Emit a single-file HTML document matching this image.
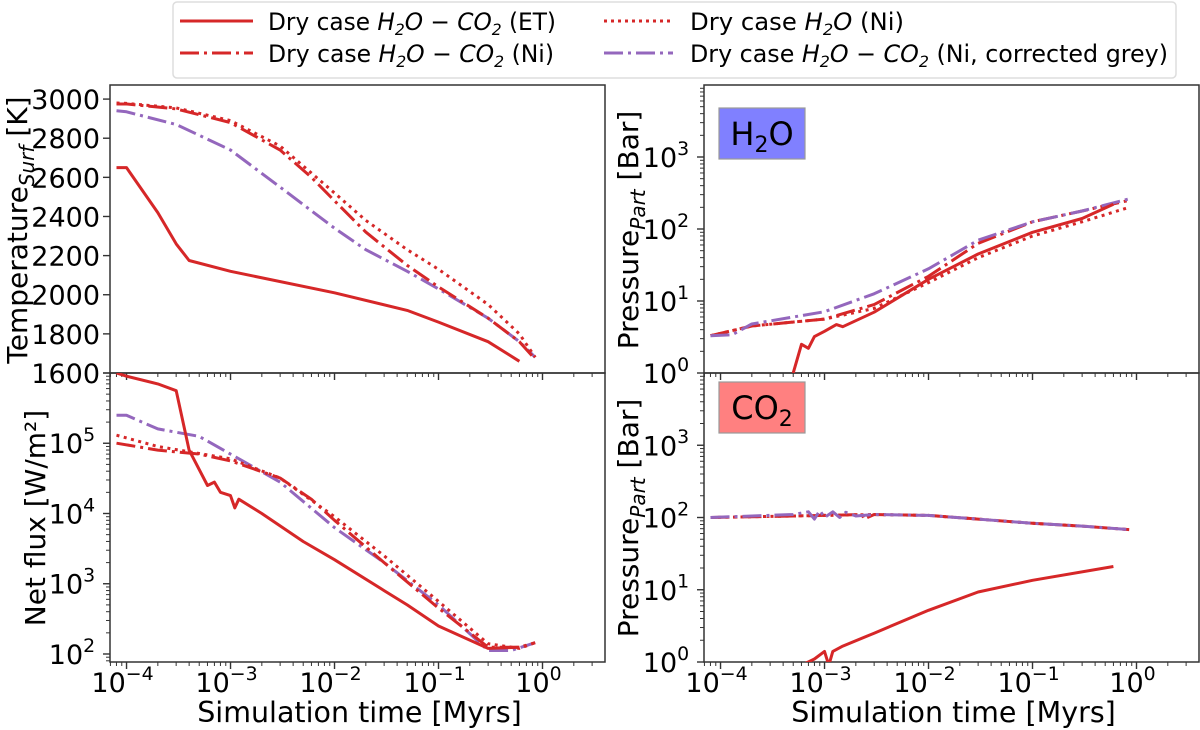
<!DOCTYPE html>
<html><head><meta charset="utf-8">
<style>
html,body{margin:0;padding:0;background:#fff;width:1200px;height:730px;overflow:hidden}
svg{display:block;font-family:"DejaVu Sans","Liberation Sans",sans-serif}
</style></head>
<body>
<svg id="fig" width="1200" height="730" viewBox="0 0 1200 730" xmlns="http://www.w3.org/2000/svg">
<g id="legend">
  <rect x="173" y="2" width="1003" height="76" rx="4" fill="#fff" stroke="#ddd" stroke-width="1.5"/>
  <g>
    <line x1="180" y1="21" x2="253" y2="21" stroke="#d62728" stroke-width="3"/>
    <text x="268" y="30" font-size="24" textLength="288" lengthAdjust="spacingAndGlyphs">Dry case <tspan font-style="italic">H</tspan><tspan font-size="16" dy="5" font-style="italic">2</tspan><tspan dy="-5" font-style="italic">O − CO</tspan><tspan font-size="16" dy="5" font-style="italic">2</tspan><tspan dy="-5"> (ET)</tspan></text>
  </g>
  <g>
    <line x1="180" y1="53" x2="253" y2="53" stroke="#d62728" stroke-width="3" stroke-dasharray="19,5,3,5"/>
    <text x="268" y="62" font-size="24" textLength="286" lengthAdjust="spacingAndGlyphs">Dry case <tspan font-style="italic">H</tspan><tspan font-size="16" dy="5" font-style="italic">2</tspan><tspan dy="-5" font-style="italic">O − CO</tspan><tspan font-size="16" dy="5" font-style="italic">2</tspan><tspan dy="-5"> (Ni)</tspan></text>
  </g>
  <g>
    <line x1="604" y1="21" x2="673" y2="21" stroke="#d62728" stroke-width="3" stroke-dasharray="3,4"/>
    <text x="690" y="30" font-size="24" textLength="214" lengthAdjust="spacingAndGlyphs">Dry case <tspan font-style="italic">H</tspan><tspan font-size="16" dy="5" font-style="italic">2</tspan><tspan dy="-5" font-style="italic">O</tspan> (Ni)</text>
  </g>
  <g>
    <line x1="604" y1="53" x2="673" y2="53" stroke="#9467bd" stroke-width="3" stroke-dasharray="19,5,3,5"/>
    <text x="690" y="62" font-size="24" textLength="478" lengthAdjust="spacingAndGlyphs">Dry case <tspan font-style="italic">H</tspan><tspan font-size="16" dy="5" font-style="italic">2</tspan><tspan dy="-5" font-style="italic">O − CO</tspan><tspan font-size="16" dy="5" font-style="italic">2</tspan><tspan dy="-5"> (Ni, corrected grey)</tspan></text>
  </g>
</g>
</svg>
<script>
// ---- data (time in Myrs) ----
// Surface temperature [K]
const tempET_t = [8e-5,1e-4,2e-4,3e-4,4e-4,1e-3,1e-2,5e-2,0.1,0.3,0.6];
const tempET_v = [2650,2650,2420,2260,2175,2120,2010,1920,1860,1760,1660];
const tempNi_t = [8e-5,1e-4,3e-4,1e-3,3e-3,6e-3,1e-2,2e-2,5e-2,0.1,0.3,0.6,0.85];
const tempNi_v = [2975,2975,2950,2880,2740,2600,2480,2320,2150,2040,1880,1760,1670];
const tempH2O_t = [8e-5,1e-4,3e-4,1e-3,3e-3,1e-2,2e-2,5e-2,0.1,0.3,0.6,0.85];
const tempH2O_v = [2980,2978,2955,2890,2760,2520,2380,2230,2130,1950,1800,1680];
const tempGrey_t = [8e-5,1e-4,3e-4,1e-3,3e-3,1e-2,2e-2,5e-2,0.1,0.3,0.6,0.85];
const tempGrey_v = [2940,2935,2870,2740,2550,2340,2230,2120,2030,1880,1760,1680];
// Net flux [W/m^2]
const fluxET_t = [8e-5,1e-4,2e-4,3e-4,4e-4,6e-4,7e-4,8e-4,1e-3,1.1e-3,1.2e-3,2e-3,5e-3,1e-2,3e-2,5e-2,0.1,0.3,0.6];
const fluxET_v = [1e6,9e5,7e5,5.6e5,8e4,2.5e4,2.8e4,2e4,1.8e4,1.2e4,1.6e4,1e4,4e3,2.2e3,800,500,250,120,125];
const fluxNi_t = [8e-5,2e-4,5e-4,1e-3,3e-3,6e-3,1e-2,3e-2,0.1,0.3,0.6,0.85];
const fluxNi_v = [1e5,8e4,7e4,5.6e4,3.2e4,1.6e4,8e3,2e3,450,125,125,145];
const fluxH2O_t = [8e-5,2e-4,1e-3,3e-3,1e-2,3e-2,0.1,0.3,0.6,0.85];
const fluxH2O_v = [1.3e5,9e4,6e4,3.2e4,9e3,2.5e3,560,140,120,145];
const fluxGrey_t = [8e-5,1e-4,2e-4,5e-4,1e-3,3e-3,1e-2,3e-2,0.1,0.3,0.5,0.85];
const fluxGrey_v = [2.5e5,2.5e5,1.6e5,1.25e5,7e4,2.8e4,6.3e3,2e3,500,112,112,145];
// H2O partial pressure [bar]
const h2oET_t = [5e-4,6e-4,7e-4,8e-4,1e-3,1.3e-3,1.5e-3,3e-3,1e-2,3e-2,0.1,0.3,0.6];
const h2oET_v = [1,2.5,2.2,3.2,3.8,4.7,4.4,7,20,45,90,140,220];
const h2oNi_t = [8e-5,2e-4,1e-3,3e-3,1e-2,3e-2,0.1,0.3,0.85];
const h2oNi_v = [3.3,4.5,5.6,8.9,22,63,126,178,250];
const h2oH2O_t = [8e-5,2e-4,1e-3,3e-3,1e-2,3e-2,0.1,0.3,0.85];
const h2oH2O_v = [3.3,4.5,5.6,7.9,18,40,80,126,200];
const h2oGrey_t = [8e-5,1.3e-4,2e-4,1e-3,3e-3,1e-2,3e-2,0.1,0.3,0.85];
const h2oGrey_v = [3.3,3.4,4.8,7.1,12.6,28,70,126,178,263];
// CO2 partial pressure [bar]
const co2ET_t = [6e-4,8e-4,1e-3,1.1e-3,1.2e-3,1.5e-3,3e-3,1e-2,3e-2,0.1,0.6];
const co2ET_v = [0.9,1.1,1.4,0.9,1.4,1.66,2.5,5.2,9.3,13.5,21];
const co2Ni_t = [8e-5,5e-4,1e-3,2.3e-3,2.4e-3,3e-3,1e-2,3e-2,0.1,0.3,0.85];
const co2Ni_v = [100,105,107,110,95,110,107,95,83,76,68];
const co2H2O_t = [8e-5,5e-4,1e-3,3e-3,1e-2,3e-2,0.1,0.3,0.85];
const co2H2O_v = [100,105,107,110,107,95,83,76,68];
const co2Grey_t = [8e-5,5e-4,7e-4,8e-4,9e-4,1e-3,1.2e-3,1.4e-3,1.6e-3,2e-3,3e-3,1e-2,3e-2,0.1,0.3,0.85];
const co2Grey_v = [100,110,120,95,125,100,120,100,118,105,110,107,95,83,76,68];
// tick labels
const tempTicks = [1600,1800,2000,2200,2400,2600,2800,3000];
const xTickExps = [-4,-3,-2,-1,0];
const fluxTickExps = [2,3,4,5];
const presTickExps = [0,1,2,3];

const NS = "http://www.w3.org/2000/svg";
const svg = document.getElementById('fig');
const RED = "#d62728", PUR = "#9467bd";
const DASHDOT = "19,5,3,5", DOT = "3,4.5";
const FS = 27;
function el(tag, attrs, parent){const e=document.createElementNS(NS,tag);for(const k in attrs)e.setAttribute(k,attrs[k]);(parent||svg).appendChild(e);return e;}

const XMIN=-4.159, XMAX=0.601;
function mkPanel(x0,x1,y0,y1,ylog,ymin,ymax){
  return {x0,x1,y0,y1,
    X:t=>x0+(Math.log10(t)-XMIN)/(XMAX-XMIN)*(x1-x0),
    Y:v=>{const u=ylog?Math.log10(v):v;return y1-(u-ymin)/(ymax-ymin)*(y1-y0);}};
}
const pT = mkPanel(110,605,85,373,false,1600,3072);
const pF = mkPanel(110,605,373,662,true,1.886,6.0);
const pH = mkPanel(704,1199,85,373,true,0,4.0);
const pC = mkPanel(704,1199,373,662,true,0,4.0);

function series(p,ts,vs,color,dash,name,clipId){
  let d="";
  for(let i=0;i<ts.length;i++){d+=(i?"L":"M")+p.X(ts[i]).toFixed(1)+","+p.Y(vs[i]).toFixed(1);}
  const a={d:d,fill:"none",stroke:color,"stroke-width":3,"stroke-linejoin":"round","clip-path":"url(#"+clipId+")"};
  if(dash)a["stroke-dasharray"]=dash;
  const e=el('path',a);
  
  
}
function sup(parent,x,y,base,exp,size,anchor){
  const t=el('text',{x:x,y:y,"font-size":size,"text-anchor":anchor},parent);
  const b=el('tspan',{},t);b.textContent=base;
  const s=el('tspan',{dy:-size*0.45,"font-size":size*0.7},t);s.textContent=exp;
  return t;
}
const defs=el('defs',{});
let clipN=0;
function frame(p,name){
  const id="clip"+(clipN++);
  const cp=el('clipPath',{id:id},defs);el('rect',{x:p.x0,y:p.y0,width:p.x1-p.x0,height:p.y1-p.y0},cp);
  const r=el('rect',{x:p.x0,y:p.y0,width:p.x1-p.x0,height:p.y1-p.y0,fill:"none",stroke:"#333","stroke-width":1.5});
  
  
  return id;
}
function xaxis(p,labels,name){
  const g=el('g',{});
  
  
  for(let d=-5;d<=1;d++)for(let m=1;m<10;m++){
    const t=m*Math.pow(10,d);const x=p.X(t);
    if(x<p.x0-0.1||x>p.x1+0.1)continue;
    el('line',{x1:x,y1:p.y1,x2:x,y2:p.y1+(m==1?7:4),stroke:"#333","stroke-width":m==1?1.4:1},g);
  }
  if(labels){
    xTickExps.forEach(e=>{sup(g,p.X(Math.pow(10,e))-4,692,"10",e<0?"−"+(-e):String(e),FS,"middle");});
    const xl=el('text',{x:(p.x0+p.x1)/2+2,y:722,"font-size":28.5,"text-anchor":"middle"},g);
    xl.textContent="Simulation time [Myrs]";
  }
}
function ylogaxis(p,exps,lo,hi,name){
  const g=el('g',{});
  
  
  for(let d=lo;d<=hi;d++)for(let m=1;m<10;m++){
    const v=m*Math.pow(10,d);const y=p.Y(v);
    if(y<p.y0-0.1||y>p.y1+0.1)continue;
    el('line',{x1:p.x0,y1:y,x2:p.x0-(m==1?7:4),y2:y,stroke:"#333","stroke-width":m==1?1.4:1},g);
  }
  exps.forEach(e=>{sup(g,p.x0-38,p.Y(Math.pow(10,e))+10,"10",String(e),FS,"middle");});
}

// Panels
const cT=frame(pT,"temperature-panel");
const cF=frame(pF,"flux-panel");
const cH=frame(pH,"h2o-pressure-panel");
const cC=frame(pC,"co2-pressure-panel");

// Temperature y axis
(function(){
  const g=el('g',{});
  
  
  tempTicks.forEach(v=>{const y=pT.Y(v);
    el('line',{x1:pT.x0,y1:y,x2:pT.x0-7,y2:y,stroke:"#333","stroke-width":1.4},g);
    const t=el('text',{x:pT.x0-10,y:y+10,"font-size":FS,"text-anchor":"end"},g);t.textContent=v;});
  const t=el('text',{transform:"translate(27,230) rotate(-90)","font-size":28,"text-anchor":"middle"},g);
  const a=el('tspan',{},t);a.textContent="Temperature";
  const b=el('tspan',{dy:7,"font-size":20,"font-style":"italic"},t);b.textContent="Surf";
  const c=el('tspan',{dy:-7},t);c.textContent=" [K]";
  
  
})();
ylogaxis(pF,fluxTickExps,1,6,"flux-y-axis");
(function(){const t=el('text',{transform:"translate(45,518) rotate(-90)","font-size":28,"text-anchor":"middle"});
  t.textContent="Net flux [W/m²]";
  
  })();
ylogaxis(pH,presTickExps,0,3,"h2o-y-axis");
ylogaxis(pC,presTickExps,0,3,"co2-y-axis");
[[pH,230,"h2o-y-axis-title"],[pC,518,"co2-y-axis-title"]].forEach(([p,cy,n])=>{
  const t=el('text',{transform:"translate(638,"+cy+") rotate(-90)","font-size":28,"text-anchor":"middle"});
  const a=el('tspan',{},t);a.textContent="Pressure";
  const b=el('tspan',{dy:7,"font-size":20,"font-style":"italic"},t);b.textContent="Part";
  const c=el('tspan',{dy:-7},t);c.textContent=" [Bar]";
  
  
});
xaxis(pT,false,"temperature-x-axis");
xaxis(pH,false,"h2o-x-axis");
xaxis(pF,true,"flux-x-axis");
xaxis(pC,true,"co2-x-axis");

// Series
series(pT,tempGrey_t,tempGrey_v,PUR,DASHDOT,"temp-grey-line",cT);
series(pT,tempH2O_t,tempH2O_v,RED,DOT,"temp-h2o-ni-line",cT);
series(pT,tempNi_t,tempNi_v,RED,DASHDOT,"temp-ni-line",cT);
series(pT,tempET_t,tempET_v,RED,null,"temp-et-line",cT);

series(pF,fluxGrey_t,fluxGrey_v,PUR,DASHDOT,"flux-grey-line",cF);
series(pF,fluxH2O_t,fluxH2O_v,RED,DOT,"flux-h2o-ni-line",cF);
series(pF,fluxNi_t,fluxNi_v,RED,DASHDOT,"flux-ni-line",cF);
series(pF,fluxET_t,fluxET_v,RED,null,"flux-et-line",cF);

series(pH,h2oH2O_t,h2oH2O_v,RED,DOT,"h2o-h2o-ni-line",cH);
series(pH,h2oNi_t,h2oNi_v,RED,DASHDOT,"h2o-ni-line",cH);
series(pH,h2oGrey_t,h2oGrey_v,PUR,DASHDOT,"h2o-grey-line",cH);
series(pH,h2oET_t,h2oET_v,RED,null,"h2o-et-line",cH);

series(pC,co2H2O_t,co2H2O_v,RED,DOT,"co2-h2o-ni-line",cC);
series(pC,co2Ni_t,co2Ni_v,RED,DASHDOT,"co2-ni-line",cC);
series(pC,co2Grey_t,co2Grey_v,PUR,DASHDOT,"co2-grey-line",cC);
series(pC,co2ET_t,co2ET_v,RED,null,"co2-et-line",cC);

// Species boxes
[[108,"#8080ff","H","2","O","h2o-label-box"],[382,"#ff8080","CO","2","","co2-label-box"]].forEach(([y,c,a,s,b,n])=>{
  const g=el('g',{});
  
  
  el('rect',{x:719,y:y,width:86,height:51,fill:c,stroke:"#999","stroke-width":1.2},g);
  const t=el('text',{x:762,y:y+37,"font-size":32,"text-anchor":"middle"},g);
  const t1=el('tspan',{},t);t1.textContent=a;
  const t2=el('tspan',{dy:7,"font-size":22},t);t2.textContent=s;
  const t3=el('tspan',{dy:-7},t);t3.textContent=b;
});
</script>
</body></html>
